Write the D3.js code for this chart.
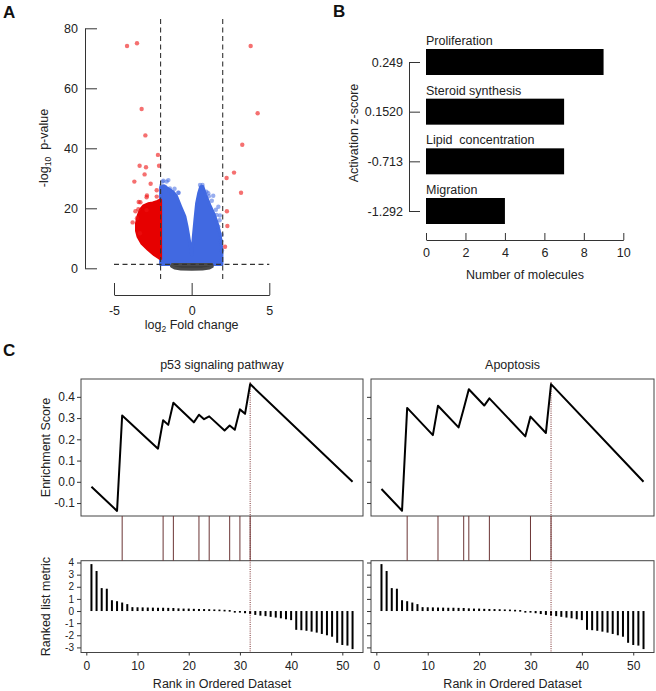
<!DOCTYPE html>
<html><head><meta charset="utf-8">
<script src="https://cdn.jsdelivr.net/npm/d3@7"></script>
<style>
body{margin:0;background:#fff;}
svg{display:block;font-family:"Liberation Sans",Arial,Helvetica,sans-serif;}
</style></head><body>
<svg id="c" width="656" height="691"></svg>
<script>
// ---------- Panel A: volcano (log2 FC, -log10 p) ----------
const aXTicks = [-5, 0, 5];
const aYTicks = [0, 20, 40, 60, 80];
const fcCut = [-2, 2];
const pCut = 1.301;
// dense clouds (outlines)
const redCloud = [[-2.0,22.8],[-2.2,22.3],[-2.5,21.8],[-2.8,21.5],[-3.1,20.8],[-3.3,19.5],[-3.45,17.5],[-3.55,15],[-3.55,12.5],[-3.45,10.5],[-3.22,8.4],[-2.79,6.2],[-2.4,4.5],[-2.08,3.4],[-2.0,3.2]];
const blueCloud = [[-2.0,1.3],[-2.0,27],[-1.8,27.5],[-1.5,26.5],[-1.2,25.5],[-0.97,24],[-0.7,20.5],[-0.43,17.2],[-0.3,14],[-0.22,11.7],[-0.12,8.5],[-0.05,6.2],[0,4.3],[0.03,6],[0.11,10.6],[0.21,16.1],[0.32,21.7],[0.45,25],[0.58,27.2],[0.72,27.3],[0.9,24.5],[1.18,21],[1.45,18],[1.65,15],[1.8,12],[1.9,9],[1.95,5],[1.95,1.3]];
const grayCloud = [[-1.25,1.3],[1.3,1.3],[1.33,0.6],[1.15,0.1],[0.7,-0.2],[0,-0.3],[-0.7,-0.2],[-1.1,0.1],[-1.3,0.7]];
// individual points
const redPts = [[-4.16,74.1],[-3.52,75],[-3.22,53.1],[-2.98,44.3],[-2.17,37.8],[-2.10,34.2],[-3.35,34.2],[-2.94,33.7],[-3.03,31.3],[-2.64,28.2],[-3.69,28.9],[-2.25,26],[-2.88,24.3],[-2.9,23.7],[-2.25,23.9],[-3.41,22.1],[-3.3,22],[-2.9,19.4],[-3.43,19.7],[-3.8,15.3],[-3.52,16.7],[-3.33,11.7],[-3.62,19],
  [3.80,74.1],[4.25,51.7],[3.26,41.2],[2.73,31.9],[2.25,30.1],[3.18,25.2],[2.27,19],[2.30,14.1],[2.15,7.2]];
const bluePts = [[-1.87,28.9],[-1.5,29.4],[-1.72,27.2],[-1.4,26.6],[-1.29,25],[-0.86,25.2],[-1.1,26.5],[-1.95,27.5],[-1.44,25.9],[-1.82,29.2],[-1.61,28.9],[-0.84,25.2],
  [0.64,26.6],[0.7,27.8],[0.54,27.8],[1.11,24],[1.07,25],[1.39,24.2],[1.3,22.5],[1.56,19.5],[1.72,20.5],[1.82,17.6],[1.72,12.8],[1.72,13.9],[1.93,11.2],[1.9,9],[1.8,16],[1.6,17.8],[1.95,6],[0.95,25.5]];

// ---------- Panel B ----------
const bCats = ["Proliferation","Steroid synthesis","Lipid  concentration","Migration"];
const bZ = ["0.249","0.1520","-0.713","-1.292"];
const bVals = [9, 7, 7, 4];
const bXTicks = [0, 2, 4, 6, 8, 10];

// ---------- Panel C ----------
const rankMetric = [3.87,3.3,1.89,1.84,0.89,0.81,0.7,0.57,0.32,0.31,0.3,0.29,0.28,0.27,0.27,0.26,0.25,0.22,0.2,0.2,0.18,0.17,0.16,0.15,0.13,0.12,0.1,0.08,-0.08,-0.12,-0.18,-0.25,
  -0.32,-0.38,-0.42,-0.48,-0.54,-0.6,-0.68,-0.75,-1.55,-1.58,-1.63,-1.7,-1.78,-1.89,-2.0,-2.12,-2.62,-2.8,-2.85,-3.14];
const p53Title = "p53 signaling pathway";
const p53Hits = [7,15,17,22,24,28,30,32];
const p53Rank = [1,6,7,14,15,16,17,21,22,23,24,27,28,29,30,31,32,52];
const p53ES = [-0.023,-0.137,0.312,0.156,0.29,0.268,0.372,0.28,0.316,0.295,0.308,0.242,0.265,0.245,0.341,0.32,0.46,0.0];
const apoTitle = "Apoptosis";
const apoHits = [6,12,17,18,22,30,34];
const apoRank = [1,5,6,11,12,16,17,18,21,22,29,30,33,34,52];
const apoES = [-0.034,-0.136,0.348,0.22,0.358,0.256,0.344,0.436,0.359,0.393,0.214,0.307,0.23,0.46,0.0];
const esTicks = [-0.1,0,0.1,0.2,0.3,0.4];
const esTickLabels = ["-0.1","0.0","0.1","0.2","0.3","0.4"];
const rmTicks = [-3,-2,-1,0,1,2,3,4];
const rankTicks = [0,10,20,30,40,50];

// ================= drawing =================
const svg = d3.select("#c");
const FONT = '"Liberation Sans",Arial,Helvetica,sans-serif';
const TXT = "#222", AX = "#333";
function styleAxis(g, fs){
  g.attr("font-family", FONT).attr("font-size", fs);
  g.selectAll("path,line").attr("stroke", AX);
  g.selectAll("text").attr("fill", TXT);
}
function panelLabel(t, x, y){
  svg.append("text").attr("x",x).attr("y",y).attr("font-size",17).attr("font-weight","bold").attr("fill","#111").text(t);
}

// ---- A ----
panelLabel("A", 3, 18);
const xA = d3.scaleLinear().domain([-5,5]).range([114,269.3]);
const yA = d3.scaleLinear().domain([0,80]).range([268.3,28.3]);
const gA = svg.append("g");
const poly = d3.line().x(d=>xA(d[0])).y(d=>yA(d[1])).curve(d3.curveLinearClosed);
gA.append("path").attr("d",poly(blueCloud)).attr("fill","#4169e1").attr("stroke","#4169e1").attr("stroke-width",3).attr("stroke-linejoin","round");
gA.append("path").attr("d",poly(redCloud)).attr("fill","#e60000").attr("stroke","#e60000").attr("stroke-width",3).attr("stroke-linejoin","round");
gA.append("path").attr("d",poly(grayCloud)).attr("fill","#3c3c3c").attr("stroke","#4a4a4a").attr("stroke-width",3).attr("stroke-linejoin","round");
gA.selectAll("circle.b").data(bluePts).join("circle").attr("class","b")
  .attr("cx",d=>xA(d[0])).attr("cy",d=>yA(d[1])).attr("r",2.2).attr("fill","#4169e1").attr("fill-opacity",0.55);
gA.selectAll("circle.r").data(redPts).join("circle").attr("class","r")
  .attr("cx",d=>xA(d[0])).attr("cy",d=>yA(d[1])).attr("r",2.2).attr("fill","#ee1111").attr("fill-opacity",0.6);
// threshold lines
gA.selectAll("line.v").data(fcCut).join("line").attr("class","v")
  .attr("x1",d=>xA(d)).attr("x2",d=>xA(d)).attr("y1",19).attr("y2",279)
  .attr("stroke","#333").attr("stroke-width",1.1).attr("stroke-dasharray","5,3.5");
gA.append("line").attr("x1",xA(-5)).attr("x2",xA(5)).attr("y1",yA(pCut)).attr("y2",yA(pCut))
  .attr("stroke","#333").attr("stroke-width",1.1).attr("stroke-dasharray","5,3.5");
const ayA = svg.append("g").attr("transform","translate(85,0)")
  .call(d3.axisLeft(yA).tickValues(aYTicks).tickSizeInner(-12).tickSizeOuter(0).tickPadding(7).tickFormat(d=>String(d)));
styleAxis(ayA, 12.5);
const axA = svg.append("g").attr("transform","translate(0,295)")
  .call(d3.axisBottom(xA).tickValues(aXTicks).tickSizeInner(-12).tickSizeOuter(0).tickPadding(11).tickFormat(d=>String(d)));
styleAxis(axA, 12.5);
const ylA = svg.append("text").attr("transform","translate(47.5,148) rotate(-90)").attr("text-anchor","middle")
  .attr("font-size",12.5).attr("fill",TXT);
ylA.append("tspan").text("-log");
ylA.append("tspan").attr("font-size",8.5).attr("dy",3).text("10");
ylA.append("tspan").attr("dy",-3).text("  p-value").attr("xml:space","preserve").style("white-space","pre");
const xlA = svg.append("text").attr("x",191.7).attr("y",329).attr("text-anchor","middle").attr("font-size",12.5).attr("fill",TXT);
xlA.append("tspan").text("log");
xlA.append("tspan").attr("font-size",8.5).attr("dy",3).text("2");
xlA.append("tspan").attr("dy",-3).text(" Fold change").attr("xml:space","preserve").style("white-space","pre");

// ---- B ----
panelLabel("B", 333, 17);
const yB = d3.scalePoint().domain(bCats).range([62,211]);
const xB = d3.scaleLinear().domain([0,10]).range([426,623.3]);
svg.append("g").selectAll("rect").data(bCats).join("rect")
  .attr("x",xB(0)).attr("y",d=>yB(d)-13).attr("height",26)
  .attr("width",(d,i)=>xB(bVals[i])-xB(0)).attr("fill","#000");
svg.append("g").selectAll("text").data(bCats).join("text")
  .attr("x",xB(0)).attr("y",d=>yB(d)-17).attr("font-size",12.5).attr("fill",TXT)
  .attr("xml:space","preserve").style("white-space","pre").text(d=>d);
const ayB = svg.append("g").attr("transform","translate(409,0)")
  .call(d3.axisLeft(yB).tickSizeInner(-11).tickSizeOuter(0).tickPadding(6).tickFormat((d,i)=>bZ[i]));
styleAxis(ayB, 12.5);
const axB = svg.append("g").attr("transform","translate(0,240)")
  .call(d3.axisBottom(xB).tickValues(bXTicks).tickSizeInner(-7).tickSizeOuter(0).tickPadding(8.5).tickFormat(d=>String(d)));
styleAxis(axB, 12.5);
svg.append("text").attr("x",525).attr("y",279).attr("text-anchor","middle").attr("font-size",12.5).attr("fill",TXT).text("Number of molecules");
svg.append("text").attr("transform","translate(357.5,133) rotate(-90)").attr("text-anchor","middle").attr("font-size",12.5).attr("fill",TXT).text("Activation z-score");

// ---- C ----
panelLabel("C", 3, 356);
const esTop = 379, esBot = 516, rmTop = 560.7, rmBot = 652.5;
const yES = d3.scaleLinear().domain([-0.161,0.484]).range([esBot,esTop]);
const yRM = d3.scaleLinear().domain([-3.42,4.15]).range([rmBot,rmTop]);

function gsea(x0, x1, title, hits, ranks, es, showLabels){
  const xs = d3.scaleLinear().domain([-1.04,54.04]).range([x0,x1]);
  const g = svg.append("g");
  const peak = ranks[d3.maxIndex(es)];
  g.append("text").attr("x",(x0+x1)/2).attr("y",369).attr("text-anchor","middle").attr("font-size",12.5).attr("fill",TXT).text(title);
  g.append("rect").attr("x",x0).attr("y",esTop).attr("width",x1-x0).attr("height",esBot-esTop).attr("fill","none").attr("stroke","#444").attr("stroke-width",1);
  g.append("rect").attr("x",x0).attr("y",rmTop).attr("width",x1-x0).attr("height",rmBot-rmTop).attr("fill","none").attr("stroke","#444").attr("stroke-width",1);
  g.selectAll("line.hit").data(hits).join("line").attr("class","hit")
    .attr("x1",d=>xs(d)).attr("x2",d=>xs(d)).attr("y1",esBot).attr("y2",rmTop)
    .attr("stroke","#6b3535").attr("stroke-width",1);
  g.selectAll("rect.bar").data(rankMetric).join("rect").attr("class","bar")
    .attr("x",(d,i)=>xs(i+1)-1).attr("width",2)
    .attr("y",d=>Math.min(yRM(d),yRM(0)))
    .attr("height",d=>Math.max(Math.abs(yRM(d)-yRM(0)),1.6))
    .attr("fill","#000");
  g.append("line").attr("x1",xs(peak)).attr("x2",xs(peak)).attr("y1",esTop+3).attr("y2",rmBot)
    .attr("stroke","#7a2e2e").attr("stroke-width",1).attr("stroke-dasharray","1,1.2");
  g.append("path").datum(ranks.map((r,i)=>[r,es[i]]))
    .attr("d",d3.line().x(d=>xs(d[0])).y(d=>yES(d[1])))
    .attr("fill","none").attr("stroke","#000").attr("stroke-width",2).attr("stroke-linejoin","round");
  const ay1 = g.append("g").attr("transform",`translate(${x0},0)`)
    .call(d3.axisLeft(yES).tickValues(esTicks).tickSizeInner(4).tickSizeOuter(0).tickPadding(2)
      .tickFormat((d,i)=>showLabels?esTickLabels[i]:""));
  styleAxis(ay1, 12); ay1.select(".domain").remove();
  const ay2 = g.append("g").attr("transform",`translate(${x0},0)`)
    .call(d3.axisLeft(yRM).tickValues(rmTicks).tickSizeInner(4).tickSizeOuter(0).tickPadding(3)
      .tickFormat(d=>showLabels?String(d):""));
  styleAxis(ay2, 10); ay2.select(".domain").remove();
  const ax = g.append("g").attr("transform",`translate(0,${rmBot})`)
    .call(d3.axisBottom(xs).tickValues(rankTicks).tickSizeInner(3).tickSizeOuter(0).tickPadding(6).tickFormat(d=>String(d)));
  styleAxis(ax, 12); ax.select(".domain").remove();
  g.append("text").attr("x",(x0+x1)/2).attr("y",688).attr("text-anchor","middle").attr("font-size",12.5).attr("fill",TXT).text("Rank in Ordered Dataset");
  if(showLabels){
    g.append("text").attr("transform",`translate(49.5,${(esTop+esBot)/2}) rotate(-90)`).attr("text-anchor","middle").attr("font-size",12.5).attr("fill",TXT).text("Enrichment Score");
    g.append("text").attr("transform",`translate(49.5,${(rmTop+rmBot)/2}) rotate(-90)`).attr("text-anchor","middle").attr("font-size",12.5).attr("fill",TXT).text("Ranked list metric");
  }
}
gsea(81, 363, p53Title, p53Hits, p53Rank, p53ES, true);
gsea(371, 654, apoTitle, apoHits, apoRank, apoES, false);
</script>
</body></html>
